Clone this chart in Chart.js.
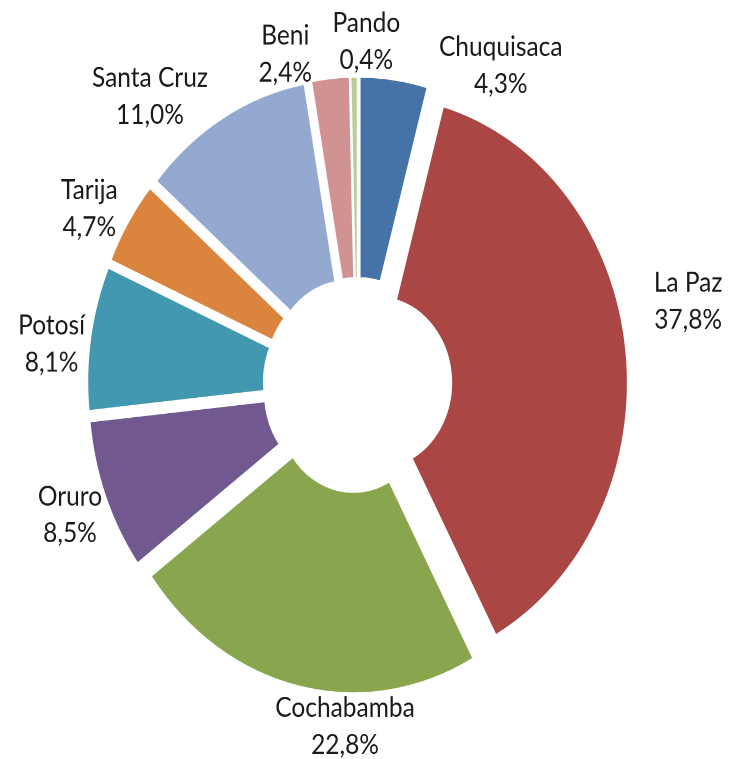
<!DOCTYPE html>
<html>
<head>
<meta charset="utf-8">
<script src="https://cdn.jsdelivr.net/npm/chart.js@4"></script>
<style>
  html, body { margin: 0; padding: 0; background: #fff; }
  #page { width: 729px; height: 759px; overflow: hidden; position: relative; }
  /* the source image is stretched vertically, so the round chart is too */
  #wrap { width: 729px; height: 665px; transform: scaleY(1.1414); transform-origin: 0 0; }
  #chart { display: block; }
</style>
</head>
<body>
<div id="page"><div id="wrap"><canvas id="chart" width="729" height="665"></canvas></div></div>
<script>
const departments = ["Chuquisaca", "La Paz", "Cochabamba", "Oruro", "Potosí", "Tarija", "Santa Cruz", "Beni", "Pando"];
const shares = [4.3, 37.8, 22.8, 8.5, 8.1, 4.7, 11.0, 2.4, 0.4];
const sliceColors = ["#4572A7", "#AA4643", "#89A54E", "#71588F", "#4198AF", "#DB843D", "#93A9CF", "#D19392", "#B9CD96"];

// label placement tweaks (degrees around the ring, px outward)
const labelTurn = [19.3, -6.2, -10.2, -0.4, -2.0, -1.8, -9.4, -8.2, 2.4];
const labelPush = [-7, 28, -1, -2, 0, 1, 0, -3, 4];

const explodeBy = 19;
const fontSize = 24.5;
const capH = 17;
const lineH = 32.4;

function pct(v) {
  return v.toFixed(1).replace(".", ",") + "%";
}

const explodedDoughnut = {
  id: "explodedDoughnut",
  beforeDatasetsDraw(chart) {
    // Excel style explosion: every slice moved out along its middle angle
    const ctx = chart.ctx;
    chart.getDatasetMeta(0).data.forEach((arc) => {
      const mid = (arc.startAngle + arc.endAngle) / 2;
      ctx.save();
      ctx.translate(Math.cos(mid) * explodeBy, Math.sin(mid) * explodeBy);
      arc.draw(ctx);
      ctx.restore();
    });
    return false;
  },
  afterDraw(chart) {
    const ctx = chart.ctx;
    ctx.save();
    ctx.font = fontSize + "px Lato";
    ctx.fillStyle = "#1a1a1a";
    ctx.textAlign = "center";
    ctx.textBaseline = "alphabetic";
    chart.getDatasetMeta(0).data.forEach((arc, i) => {
      const lines = [departments[i], pct(shares[i])];
      const w = Math.max(...lines.map((t) => ctx.measureText(t).width));
      const h = capH + lineH;
      const a = (arc.startAngle + arc.endAngle) / 2 + labelTurn[i] * Math.PI / 180;
      const c = Math.cos(a), s = Math.sin(a);
      const half = Math.abs(c) * w / 2 + Math.abs(s) * h / 2;
      const d = arc.outerRadius + explodeBy + 2 + half + labelPush[i];
      const x = arc.x + c * d;
      const y = arc.y + s * d;
      const base = y - h / 2 + capH;
      ctx.fillText(lines[0], x, base);
      ctx.fillText(lines[1], x, base + lineH);
    });
    ctx.restore();
  },
};

new Chart(document.getElementById("chart"), {
  type: "doughnut",
  data: {
    labels: departments,
    datasets: [
      {
        data: shares,
        backgroundColor: sliceColors,
        borderColor: "#fff",
        borderWidth: 1,
      },
    ],
  },
  options: {
    responsive: false,
    devicePixelRatio: 2,
    animation: false,
    radius: 251,
    cutout: "30%",
    layout: { padding: { left: 20, right: 34, top: 20, bottom: 10 } },
    plugins: {
      legend: { display: false },
      tooltip: { enabled: false },
    },
  },
  plugins: [explodedDoughnut],
});
</script>
</body>
</html>
